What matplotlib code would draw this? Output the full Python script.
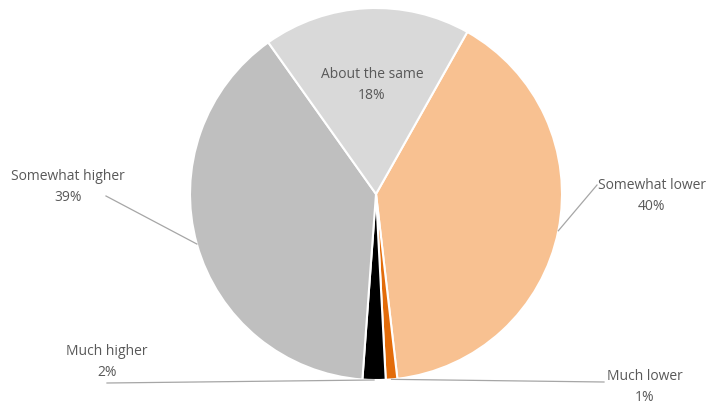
import numpy as np
import matplotlib.pyplot as plt

labels = ['Somewhat lower', 'Much lower', 'Much higher', 'Somewhat higher', 'About the same']
values = [40, 1, 2, 39, 18]
colors = ['#F8C191', '#E36C0A', '#000000', '#BFBFBF', '#D9D9D9']

W, H = 713, 406
cx, cy, r = 376, H - 195, 186
first_angle = 29.4  # clockwise from 12 o'clock

fig = plt.figure(figsize=(W / 100, H / 100), dpi=100)
ax = fig.add_axes([0, 0, 1, 1])

wedges, _ = ax.pie(values, colors=colors, startangle=90 - first_angle, counterclock=False,
                   center=(cx, cy), radius=r, frame=True,
                   wedgeprops=dict(edgecolor='white', linewidth=1.5))
ax.set_xlim(0, W)
ax.set_ylim(0, H)
ax.set_aspect('equal')
ax.axis('off')

txt = dict(color='#595959', fontsize=10, family='Open Sans', ha='center', va='center', linespacing=1.5)
line = dict(color='#A6A6A6', lw=0.9)

# label centre and leader start, in pixels from top-left
label_pos = {
    'Somewhat lower': ((652, 196), (597, 186)),
    'Much lower': ((645, 387), (604, 383)),
    'Much higher': ((107, 362), (107, 384)),
    'Somewhat higher': ((68, 187), (106, 197)),
    'About the same': ((372, 85), None),
}

for w, lab, v in zip(wedges, labels, values):
    (lx, ly), start = label_pos[lab]
    ax.text(lx, H - ly, f'{lab}\n{v}%', **txt)
    if start is not None:
        mid = np.deg2rad((w.theta1 + w.theta2) / 2)
        ex, ey = cx + r * np.cos(mid), cy + r * np.sin(mid)
        ax.plot([start[0], ex], [H - start[1], ey], **line)

fig.savefig('out.png', dpi=100)
